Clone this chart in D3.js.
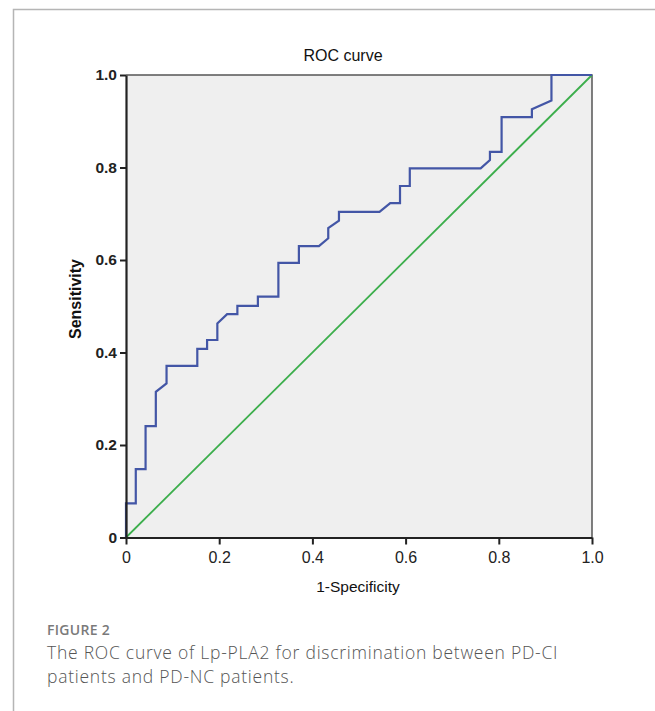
<!DOCTYPE html>
<html>
<head>
<meta charset="utf-8">
<script src="https://d3js.org/d3.v7.min.js"></script>
<style>
  body { margin: 0; background: #fff; }
  svg { display: block; }
</style>
</head>
<body>
<div id="chart"></div>
<script>
// ROC curve points (1-specificity, sensitivity)
var fpr  = [0, 0, 0.021, 0.021, 0.042, 0.042, 0.064, 0.064, 0.087, 0.087, 0.153, 0.153, 0.174, 0.174, 0.196, 0.196, 0.217, 0.239, 0.239, 0.283, 0.283, 0.327, 0.327, 0.371, 0.371, 0.414, 0.434, 0.434, 0.457, 0.457, 0.544, 0.567, 0.588, 0.588, 0.609, 0.609, 0.761, 0.781, 0.781, 0.806, 0.806, 0.871, 0.871, 0.913, 0.913, 1.0];
var sens = [0, 0.074, 0.074, 0.148, 0.148, 0.241, 0.241, 0.315, 0.333, 0.371, 0.371, 0.408, 0.408, 0.427, 0.427, 0.463, 0.483, 0.483, 0.501, 0.501, 0.521, 0.521, 0.594, 0.594, 0.630, 0.630, 0.647, 0.669, 0.685, 0.704, 0.704, 0.723, 0.723, 0.760, 0.760, 0.798, 0.798, 0.816, 0.834, 0.834, 0.909, 0.909, 0.926, 0.945, 1.0, 1.0];
var refLine = [0, 1];
var ticks = [0, 0.2, 0.4, 0.6, 0.8, 1.0];

var W = 655, H = 711;
var svg = d3.select("#chart").append("svg").attr("width", W).attr("height", H);

// card border (top and left visible)
svg.append("path")
  .attr("d", "M13.5," + H + "V9.5H" + W)
  .attr("fill", "none").attr("stroke", "#b5b5b5").attr("stroke-width", 1.5);

var x = d3.scaleLinear().domain([0, 1]).range([126, 592]);
var y = d3.scaleLinear().domain([0, 1]).range([537.5, 75]);
var fmt = function (d) { return d === 0 ? "0" : d3.format(".1f")(d); };
var FONT = "Liberation Sans, Arial, sans-serif";

// plot background
svg.append("rect")
  .attr("x", x(0)).attr("y", y(1))
  .attr("width", x(1) - x(0)).attr("height", y(0) - y(1))
  .attr("fill", "#efefef");

// top and right frame
svg.append("path")
  .attr("d", "M" + x(0) + "," + y(1) + "H" + x(1) + "V" + y(0))
  .attr("fill", "none").attr("stroke", "#555").attr("stroke-width", 1.5);

// reference diagonal
svg.append("line")
  .attr("x1", x(refLine[0])).attr("y1", y(refLine[0]))
  .attr("x2", x(refLine[1])).attr("y2", y(refLine[1]))
  .attr("stroke", "#3cae4c").attr("stroke-width", 1.8);

// ROC curve
var pts = fpr.map(function (f, i) { return [f, sens[i]]; });
svg.append("path")
  .datum(pts)
  .attr("fill", "none")
  .attr("stroke", "#4356a6")
  .attr("stroke-width", 2.2)
  .attr("d", d3.line().x(function (d) { return x(d[0]); }).y(function (d) { return y(d[1]); }));

// axes
var xAxis = svg.append("g")
  .attr("transform", "translate(0," + y(0) + ")")
  .call(d3.axisBottom(x).tickValues(ticks).tickFormat(fmt).tickSize(7).tickSizeOuter(0));
var yAxis = svg.append("g")
  .attr("transform", "translate(" + x(0) + ",0)")
  .call(d3.axisLeft(y).tickValues(ticks).tickFormat(fmt).tickSize(6).tickSizeOuter(0));

[xAxis, yAxis].forEach(function (g) {
  g.select(".domain").attr("stroke", "#222").attr("stroke-width", 2.2);
  g.selectAll(".tick line").attr("stroke", "#222").attr("stroke-width", 2);
  g.selectAll(".tick text")
    .attr("fill", "#222")
    .style("font-family", FONT)
    .style("font-size", "16px");
});
xAxis.selectAll(".tick text").attr("y", 14);
yAxis.selectAll(".tick text").attr("x", -9).style("font-weight", "bold").style("font-size", "15.5px");

// titles
svg.append("text")
  .attr("x", 343).attr("y", 61)
  .attr("text-anchor", "middle")
  .style("font-family", FONT)
  .style("font-size", "16px").attr("fill", "#111")
  .text("ROC curve");

svg.append("text")
  .attr("x", 358).attr("y", 592)
  .attr("text-anchor", "middle")
  .style("font-family", FONT)
  .style("font-size", "15.5px").attr("fill", "#111")
  .text("1-Specificity");

svg.append("text")
  .attr("transform", "translate(81,299) rotate(-90)")
  .attr("text-anchor", "middle")
  .style("font-family", FONT)
  .style("font-size", "16px").style("font-weight", "bold").attr("fill", "#111")
  .text("Sensitivity");

// caption
svg.append("text")
  .attr("x", 47).attr("y", 635)
  .style("font-family", "Open Sans, sans-serif")
  .style("font-size", "14px").style("font-weight", 600)
  .style("letter-spacing", "0.3px")
  .attr("fill", "#7a7a7a")
  .text("FIGURE 2");

var caption = ["The ROC curve of Lp-PLA2 for discrimination between PD-CI", "patients and PD-NC patients."];
svg.selectAll(".cap")
  .data(caption)
  .enter().append("text")
  .attr("class", "cap")
  .attr("x", 47)
  .attr("y", function (d, i) { return 659 + i * 24; })
  .style("font-family", "Open Sans, sans-serif")
  .style("font-size", "17.5px").style("font-weight", 300)
  .style("letter-spacing", "0.75px")
  .attr("fill", "#555")
  .text(function (d) { return d; });
</script>
</body>
</html>
